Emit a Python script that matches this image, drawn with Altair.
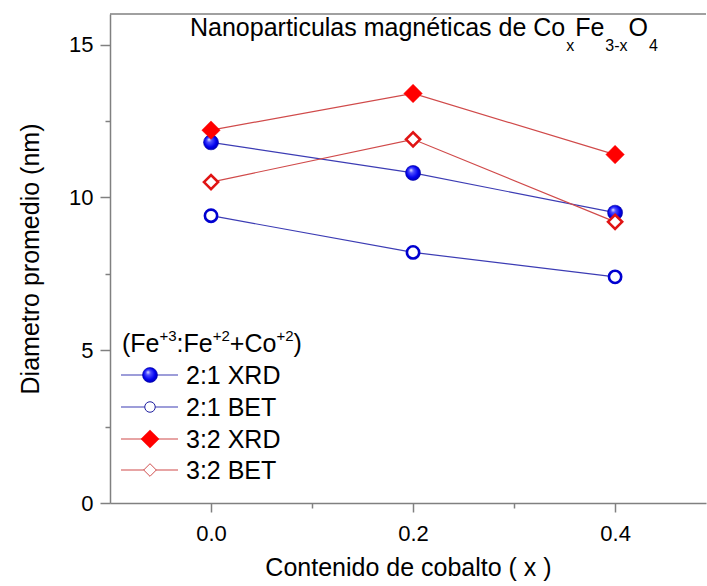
import altair as alt
import pandas as pd

# Cobalt content and mean particle diameters (nm)
cobalt = [0.0, 0.2, 0.4]
xrd_21 = [11.8, 10.8, 9.5]
bet_21 = [9.4, 8.2, 7.4]
xrd_32 = [12.2, 13.4, 11.4]
bet_32 = [10.5, 11.9, 9.2]
series_names = ["2:1 XRD", "2:1 BET", "3:2 XRD", "3:2 BET"]

x_ticks = [0.0, 0.1, 0.2, 0.3, 0.4]
y_ticks = [0, 2.5, 5, 7.5, 10, 12.5, 15]

W, H = 596, 489
FONT = "Liberation Sans"
AXIS_GREY = "#808080"

rows = []
for name, vals in zip(series_names, [xrd_21, bet_21, xrd_32, bet_32]):
    for xv, yv in zip(cobalt, vals):
        rows.append({"serie": name, "x": xv, "d": yv})
df = pd.DataFrame(rows)

sphere = alt.RadialGradient(
    gradient="radial", x1=0.35, y1=0.3, r1=0.0, x2=0.5, y2=0.5, r2=0.6,
    stops=[
        alt.GradientStop(offset=0.0, color="#f4f4ff"),
        alt.GradientStop(offset=0.25, color="#5050ff"),
        alt.GradientStop(offset=0.65, color="#0000ee"),
        alt.GradientStop(offset=1.0, color="#00009a"),
    ],
)

styles = {
    "2:1 XRD": dict(line="#3c3cb4", shape="circle", fill=sphere, stroke="#0000a8",
                    sw=0.6, size=225, lsize=225, lsw=0.6, lstroke="#0000a8"),
    "2:1 BET": dict(line="#3c3cb4", shape="circle", fill="white", stroke="#0000d0",
                    sw=2.6, size=150, lsize=110, lsw=1.0, lstroke="#2020a0"),
    "3:2 XRD": dict(line="#d04a4a", shape="diamond", fill="#ff0000", stroke="#ff0000",
                    sw=0.5, size=340, lsize=330, lsw=0.5, lstroke="#ff0000"),
    "3:2 BET": dict(line="#d04a4a", shape="diamond", fill="white", stroke="#e01414",
                    sw=2.6, size=200, lsize=160, lsw=1.0, lstroke="#d05050"),
}

x_scale = alt.Scale(domain=[-0.1, 0.49], nice=False, zero=False)
y_scale = alt.Scale(domain=[0, 16], nice=False, zero=False)

x_axis = alt.Axis(
    values=x_ticks, format=".1f",
    labelExpr="(datum.value == 0.1 || datum.value == 0.3) ? '' : datum.label",
    tickSize={"condition": {"test": "datum.value == 0.1 || datum.value == 0.3", "value": 5}, "value": 9},
    title="Contenido de cobalto ( x )", titleFont=FONT, titleFontSize=25,
    titleFontWeight="normal", titleColor="black", titleX=W / 2, titleY=64,
    titleAlign="center", titleBaseline="middle",
    labelFont=FONT, labelFontSize=22, labelColor="black", labelPadding=11,
    domainColor=AXIS_GREY, domainWidth=1.5, tickColor=AXIS_GREY, tickWidth=1.5,
    grid=False,
)
y_axis = alt.Axis(
    values=y_ticks,
    labelExpr="datum.value % 5 == 0 ? datum.label : ''",
    tickSize={"condition": {"test": "datum.value % 5 != 0", "value": 5}, "value": 10},
    title="Diametro promedio (nm)", titleFont=FONT, titleFontSize=25,
    titleFontWeight="normal", titleColor="black", titleX=-80, titleY=H / 2,
    titleAngle=-90, titleAlign="center", titleBaseline="middle",
    labelFont=FONT, labelFontSize=22, labelColor="black", labelPadding=7,
    domainColor=AXIS_GREY, domainWidth=1.5, tickColor=AXIS_GREY, tickWidth=1.5,
    grid=False,
)

base = alt.Chart(df)

lines = base.mark_line(strokeWidth=1.2).encode(
    x=alt.X("x:Q", scale=x_scale, axis=x_axis),
    y=alt.Y("d:Q", scale=y_scale, axis=y_axis),
    stroke=alt.Stroke("serie:N", scale=alt.Scale(domain=series_names,
                      range=[styles[s]["line"] for s in series_names]), legend=None),
    detail="serie:N",
)

layers = [lines]
for name in series_names:
    st = styles[name]
    layers.append(
        base.transform_filter(alt.datum.serie == name)
        .mark_point(shape=st["shape"], filled=True, fill=st["fill"], stroke=st["stroke"],
                    strokeWidth=st["sw"], size=st["size"], opacity=1)
        .encode(x=alt.X("x:Q", scale=x_scale), y=alt.Y("d:Q", scale=y_scale))
    )

# top frame line
layers.append(
    alt.Chart(pd.DataFrame({"top": [16]})).mark_rule(color=AXIS_GREY, strokeWidth=1.5)
    .encode(y=alt.Y("top:Q", scale=y_scale), x=alt.value(0), x2=alt.value(W))
)

# Helvetica/Arial advance widths (1/1000 em)
AFM = {" ": 278, "(": 333, ")": 333, "+": 584, "-": 333, ":": 278,
       "C": 722, "F": 611, "O": 778, "N": 722, "a": 556, "b": 556, "c": 500,
       "d": 556, "e": 556, "é": 556, "g": 556, "i": 222, "l": 222, "m": 833,
       "n": 556, "o": 556, "p": 556, "r": 333, "s": 500, "t": 278, "u": 556,
       "x": 500}


def text_width(s, size):
    return sum(AFM.get(c, 556) for c in s) * size / 1000


def rich_text(pieces, x0, y0, gap=0.0):
    out = []
    x = x0
    for txt, size, dy in pieces:
        out.append(
            alt.Chart(pd.DataFrame({"t": [txt]}))
            .mark_text(align="left", baseline="alphabetic", font=FONT, fontSize=size, color="black")
            .encode(text="t:N", x=alt.value(x), y=alt.value(y0 + dy))
        )
        x += text_width(txt, size) + gap
    return out


# chart title with subscripts
layers += rich_text(
    [("Nanoparticulas magnéticas de Co", 25, 0), ("x", 16, 15), ("Fe", 25, 0),
     ("3-x", 16, 15), ("O", 25, 0), ("4", 16, 15)],
    80, 22, gap=1.0,
)

# legend title with superscripts
layers += rich_text(
    [("(Fe", 25, 0), ("+3", 15, -11), (":Fe", 25, 0), ("+2", 15, -11),
     ("+Co", 25, 0), ("+2", 15, -11), (")", 25, 0)],
    12, 338,
)

# legend entries
legend_y = [361, 393, 425, 456]
for name, ly in zip(series_names, legend_y):
    st = styles[name]
    one = alt.Chart(pd.DataFrame({"serie": [name]}))
    layers.append(one.mark_rule(color=st["line"], strokeWidth=1.2)
                  .encode(x=alt.value(11), x2=alt.value(68), y=alt.value(ly)))
    layers.append(one.mark_point(shape=st["shape"], filled=True, fill=st["fill"],
                                 stroke=st["lstroke"], strokeWidth=st["lsw"],
                                 size=st["lsize"], opacity=1)
                  .encode(x=alt.value(40), y=alt.value(ly)))
    layers.append(one.mark_text(align="left", baseline="middle", font=FONT, fontSize=25,
                                color="black")
                  .encode(text="serie:N", x=alt.value(76), y=alt.value(ly + 1)))

chart = (
    alt.layer(*layers)
    .properties(width=W, height=H, autosize=alt.AutoSizeParams(type="none"),
                padding={"left": 110, "top": 14, "right": 1, "bottom": 83},
                background="white")
    .configure_view(stroke=None)
)

chart.save("out.html", embed_options={"renderer": "svg", "actions": False})
